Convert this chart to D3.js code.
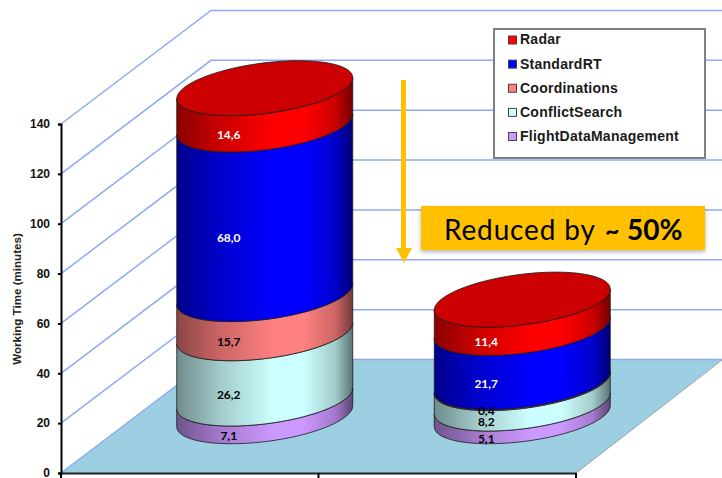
<!DOCTYPE html>
<html><head><meta charset="utf-8">
<script src="https://cdn.jsdelivr.net/npm/d3@7"></script>
<style>html,body{margin:0;padding:0;background:#fff}svg{display:block}</style>
</head><body><svg id="c" width="722" height="478"></svg>
<script>
const categories = ["Before", "After"];
const seriesNames = ["FlightDataManagement", "ConflictSearch", "Coordinations", "StandardRT", "Radar"];
const legendOrder = ["Radar", "StandardRT", "Coordinations", "ConflictSearch", "FlightDataManagement"];
const flightData = [7.1, 5.1];
const conflictSearch = [26.2, 8.2];
const coordinations = [15.7, 0.4];
const standardRT = [68.0, 21.7];
const radar = [14.6, 11.4];
const seriesValues = [flightData, conflictSearch, coordinations, standardRT, radar];
const seriesColors = ["#cc99ff", "#ccffff", "#ff8080", "#0000ff", "#ff0000"];
const labelColors = ["#000", "#000", "#000", "#fff", "#fff"];
const yTicks = [0, 20, 40, 60, 80, 100, 120, 140];

const svg = d3.select("#c");
const defs = svg.append("defs");
const y = d3.scaleLinear().domain([0, 140]).range([473, 124]);
const x = d3.scaleBand().domain(categories).range([61, 576]);
const depthX = 150, depthY = -113.5, A = 88, K = 10.5, B = 25.4;
const sansBold = "'Liberation Sans', Arial, sans-serif";
const grid = "#8dabf2";
const fmt = v => d3.format(".1f")(v).replace(".", ",");

svg.append("path")
  .attr("d", d3.line()([[61, 473], [61 + depthX, 473 + depthY], [722, 473 + depthY], [576, 473]]) + "Z")
  .attr("fill", "#9ccfe1");
svg.append("line").attr("x1", 576).attr("y1", 473).attr("x2", 722).attr("y2", 360)
  .attr("stroke", "#8f9ea6").attr("stroke-width", 1);

yTicks.forEach(t => {
  svg.append("path").attr("fill", "none").attr("stroke", grid).attr("stroke-width", 1.5)
    .attr("d", d3.line()([[61, y(t)], [61 + depthX, y(t) + depthY], [722, y(t) + depthY]]));
});

seriesColors.forEach((c, i) => {
  const g = defs.append("linearGradient").attr("id", "g" + i).attr("x1", 0).attr("x2", 1).attr("y1", 0).attr("y2", 0);
  const edgeL = d3.interpolateRgb(c, "#000")(0.45), edgeR = d3.interpolateRgb(c, "#000")(0.55), mid = d3.interpolateRgb(c, "#000")(0.2);
  [[0, edgeL], [0.25, mid], [0.55, c], [0.72, c], [0.9, mid], [1, edgeR]].forEach(s =>
    g.append("stop").attr("offset", s[0]).attr("stop-color", s[1]));
});

const samples = d3.range(0, 49).map(i => i / 48 * Math.PI);
const edge = (cx, cy, ts) => ts.map(t => [cx + A * Math.cos(t), cy - K * Math.cos(t) + B * Math.sin(t)]);
const line = d3.line();
const baseOffset = y(0) + depthY / 2;

categories.forEach((cat, ci) => {
  const cx = x(cat) + x.bandwidth() / 2 + depthX / 2;
  const toY = v => baseOffset - (y(0) - y(v));
  let cum = 0;
  const labels = [];
  seriesValues.forEach((vals, si) => {
    const v = vals[ci];
    const cy0 = toY(cum), cy1 = toY(cum + v);
    const lower = edge(cx, cy0, samples);
    const upper = edge(cx, cy1, samples).reverse();
    svg.append("path").attr("d", line(lower.concat(upper)) + "Z")
      .attr("fill", `url(#g${si})`).attr("stroke", "#1a1a1a").attr("stroke-width", 0.8);
    labels.push({ v, cy: (cy0 + cy1) / 2, si });
    cum += v;
  });
  const topCy = toY(cum);
  const all = d3.range(0, 97).map(i => i / 96 * 2 * Math.PI);
  svg.append("path").attr("d", line(edge(cx, topCy, all)) + "Z")
    .attr("fill", "#cc0000").attr("stroke", "#1a1a1a").attr("stroke-width", 0.8);
  labels.forEach(l => {
    svg.append("text").attr("x", cx - 36).attr("y", l.cy + 28.5).attr("dy", "0.35em")
      .attr("text-anchor", "middle").attr("font-family", "Lato, 'Open Sans', sans-serif")
      .attr("font-weight", 700).attr("font-size", 12).attr("fill", labelColors[l.si])
      .text(fmt(l.v));
  });
});

const yAxis = d3.axisLeft(y).tickValues(yTicks).tickSize(3).tickPadding(8).tickFormat(d3.format("d"));
const gy = svg.append("g").attr("transform", "translate(61,0)").call(yAxis);
gy.select(".domain").attr("stroke", "#000").attr("stroke-width", 2);
gy.selectAll(".tick line").attr("stroke", "#000").attr("stroke-width", 2);
gy.selectAll("text").attr("font-family", sansBold).attr("font-weight", 700).attr("font-size", 12).attr("fill", "#111");

const xAxis = d3.axisBottom(x).tickValues([]).tickSizeOuter(0);
const gx = svg.append("g").attr("transform", "translate(0,473)").call(xAxis);
gx.select(".domain").attr("stroke", "#222").attr("stroke-width", 2);
x.domain().concat(["_end"]).forEach((c, i) => {
  const px = i < categories.length ? x(c) : x.range()[1];
  gx.append("line").attr("x1", px).attr("x2", px).attr("y1", 0).attr("y2", 5)
    .attr("stroke", "#000").attr("stroke-width", 2);
});

svg.append("text").attr("transform", "translate(20.5,299) rotate(-90)")
  .attr("text-anchor", "middle").attr("font-family", sansBold).attr("font-weight", 700)
  .attr("font-size", 11.6).attr("fill", "#222").text("Working Time (minutes)");

svg.append("rect").attr("x", 494).attr("y", 29).attr("width", 211).attr("height", 129)
  .attr("fill", "#fff").attr("stroke", "#808080").attr("stroke-width", 2);
const legendY = d3.scalePoint().domain(legendOrder).range([40, 136.5]);
legendOrder.forEach(n => {
  const col = seriesColors[seriesNames.indexOf(n)];
  svg.append("rect").attr("x", 508.5).attr("y", legendY(n) - 4).attr("width", 8).attr("height", 8)
    .attr("fill", col).attr("stroke", "#444").attr("stroke-width", 1);
  svg.append("text").attr("x", 520).attr("y", legendY(n) - 0.5).attr("dy", "0.35em")
    .attr("font-family", sansBold).attr("font-weight", 700).attr("font-size", 14)
    .attr("letter-spacing", 0.25).attr("fill", "#1a1a1a").text(n);
});

svg.append("line").attr("x1", 403.5).attr("x2", 403.5).attr("y1", 80).attr("y2", 250)
  .attr("stroke", "#ffc000").attr("stroke-width", 5);
svg.append("path").attr("d", d3.line()([[396, 248], [412, 248], [404, 263]]) + "Z").attr("fill", "#ffc000");

const sh = defs.append("filter").attr("id", "sh").attr("x", "-10%").attr("y", "-20%").attr("width", "120%").attr("height", "150%");
sh.append("feDropShadow").attr("dx", 0).attr("dy", 2).attr("stdDeviation", 2).attr("flood-color", "#000").attr("flood-opacity", 0.3);
svg.append("rect").attr("x", 421).attr("y", 206).attr("width", 284).attr("height", 44)
  .attr("fill", "#ffc000").attr("filter", "url(#sh)");
const t = svg.append("text").attr("y", 240).attr("font-family", "Lato, 'Open Sans', sans-serif").attr("fill", "#000");
t.append("tspan").attr("x", 444).attr("font-size", 28).attr("letter-spacing", 0.85).text("Reduced by");
t.append("tspan").attr("x", 605).attr("font-size", 25).attr("font-weight", 700).text("~");
t.append("tspan").attr("x", 627).attr("font-size", 28).attr("font-weight", 700).text("50%");
</script></body></html>
